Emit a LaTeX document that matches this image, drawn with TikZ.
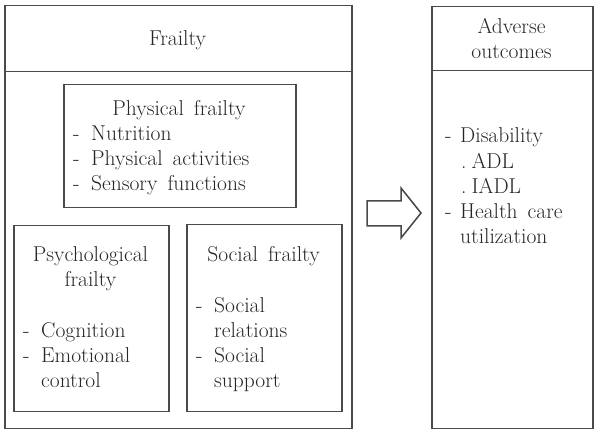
\documentclass[tikz,border=0pt]{standalone}
\usepackage{fontspec}
\newcommand{\diagfont}{\fontsize{21.5}{25}\selectfont\spaceskip=10pt\relax}
\begin{document}
\begin{tikzpicture}[x=1pt,y=-1pt,
  box/.style={draw=linegray, line width=1.5pt, inner sep=0pt, anchor=north west},
  txt/.style={anchor=base west, inner sep=0pt, text=textgray, font=\diagfont},
  ctxt/.style={anchor=base, inner sep=0pt, text=textgray, font=\diagfont, align=center},
]
\definecolor{linegray}{HTML}{4A4A4A}
\definecolor{textgray}{HTML}{262626}
\useasboundingbox (0,0) rectangle (598,443);
% Frailty
\node[box, minimum width=347pt, minimum height=66pt] (ftitle) at (4,5) {};
\node[box, minimum width=347pt, minimum height=357pt] (fbody) at (4,71) {};
\node[ctxt] (ftxt) at (177.5,46) {Frailty};
% Physical
\node[box, minimum width=232pt, minimum height=123pt] (phys) at (63,84) {};
\node[ctxt] (physt) at (179,116) {Physical frailty};
\node[txt] (p1) at (73,141) {-};
\node[txt] (p1t) at (91,141) {Nutrition};
\node[txt] (p2) at (73,166) {-};
\node[txt] (p2t) at (91,166) {Physical activities};
\node[txt] (p3) at (73,191) {-};
\node[txt] (p3t) at (91,191) {Sensory functions};
% Psychological
\node[box, minimum width=155pt, minimum height=186pt] (psy) at (13,225) {};
\node[ctxt] (psyt1) at (90.5,262) {Psychological};
\node[ctxt] (psyt2) at (90.5,287) {frailty};
\node[txt] (s1) at (23,338) {-};
\node[txt] (s1t) at (41,338) {Cognition};
\node[txt] (s2) at (23,363) {-};
\node[txt] (s2t) at (41,363) {Emotional};
\node[txt] (s2u) at (41,388) {control};
% Social
\node[box, minimum width=155pt, minimum height=187pt] (soc) at (186,224) {};
\node[ctxt] (soct) at (263.5,262) {Social frailty};
\node[txt] (c1) at (196,313) {-};
\node[txt] (c1t) at (214,313) {Social};
\node[txt] (c1u) at (214,338) {relations};
\node[txt] (c2) at (196,363) {-};
\node[txt] (c2t) at (214,363) {Social};
\node[txt] (c2u) at (214,388) {support};
% Adverse outcomes
\node[box, minimum width=161pt, minimum height=64pt] (atitle) at (431,6) {};
\node[box, minimum width=161pt, minimum height=358pt] (abody) at (431,70) {};
\node[ctxt] (at1) at (511.5,34) {Adverse};
\node[ctxt] (at2) at (511.5,59) {outcomes};
\node[txt] (a1) at (445,143) {-};
\node[txt] (a1t) at (460,143) {Disability};
\node[txt] (a2) at (461,169) {.\hspace{5pt}ADL};
\node[txt] (a3) at (461,194) {.\hspace{5pt}IADL};
\node[txt] (a4) at (445,219) {-};
\node[txt] (a4t) at (460,219) {Health care};
\node[txt] (a4u) at (460,244) {utilization};
% Arrow
\coordinate (arrowtail) at (367,213);
\coordinate (arrowtip) at (421,213);
\draw[linegray, line width=1.5pt, line join=miter]
  (arrowtail |- 0,201) -- (401,201) -- (401,188) -- (arrowtip) -- (401,238) -- (401,226) -- (arrowtail |- 0,226) -- cycle;
\end{tikzpicture}
\end{document}
